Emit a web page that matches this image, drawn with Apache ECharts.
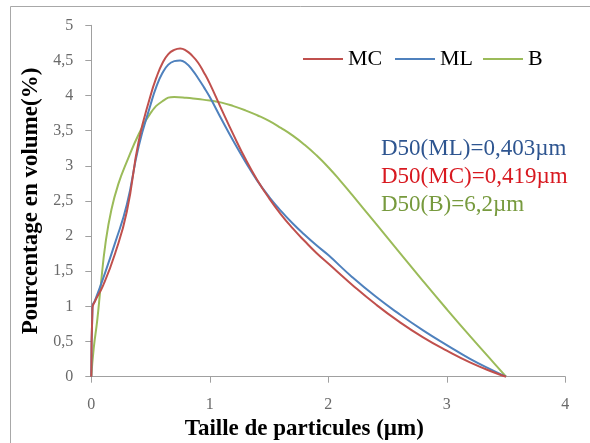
<!DOCTYPE html>
<html>
<head>
<meta charset="utf-8">
<script src="https://cdn.jsdelivr.net/npm/echarts@6/dist/echarts.min.js"></script>
<style>
html,body{margin:0;padding:0;background:#fff;}
#chart{width:590px;height:443px;}
</style>
</head>
<body>
<div id="chart"></div>
<script>
// Particle size (µm) for MC and ML
var sizesM = [0, 0.01, 0.03, 0.1, 0.2, 0.3, 0.4, 0.5, 0.55, 0.6, 0.65, 0.7, 0.75, 0.8, 0.85, 0.9, 0.95, 1.0, 1.1, 1.2, 1.3, 1.4, 1.5, 1.6, 1.7, 1.8, 1.9, 2.0, 2.2, 2.4, 2.6, 2.8, 3.0, 3.2, 3.4, 3.5];
var valuesMC = [0, 0.98, 1.07, 1.3, 1.75, 2.35, 3.35, 4.0, 4.26, 4.46, 4.59, 4.65, 4.67, 4.64, 4.57, 4.47, 4.33, 4.17, 3.80, 3.44, 3.10, 2.80, 2.54, 2.31, 2.11, 1.93, 1.76, 1.61, 1.31, 1.03, 0.78, 0.56, 0.37, 0.20, 0.06, 0];
var valuesML = [0, 1.0, 1.08, 1.4, 1.9, 2.45, 3.28, 3.87, 4.13, 4.32, 4.44, 4.49, 4.50, 4.46, 4.37, 4.25, 4.12, 3.98, 3.66, 3.35, 3.06, 2.79, 2.56, 2.36, 2.18, 2.02, 1.87, 1.73, 1.42, 1.14, 0.89, 0.66, 0.45, 0.25, 0.08, 0];
// Particle size (µm) for B
var sizesB = [0, 0.02, 0.05, 0.08, 0.12, 0.17, 0.23, 0.3, 0.4, 0.5, 0.6, 0.7, 0.8, 0.9, 1.0, 1.1, 1.2, 1.3, 1.4, 1.5, 1.6, 1.7, 1.8, 1.9, 2.0, 2.1, 2.2, 2.4, 2.6, 2.8, 3.0, 3.2, 3.4, 3.5];
var valuesB = [0, 0.4, 0.8, 1.3, 1.9, 2.38, 2.75, 3.06, 3.45, 3.75, 3.92, 3.98, 3.97, 3.95, 3.93, 3.90, 3.85, 3.79, 3.72, 3.64, 3.54, 3.43, 3.30, 3.15, 2.98, 2.79, 2.59, 2.18, 1.77, 1.36, 0.96, 0.57, 0.19, 0];
var seriesNames = ['MC', 'ML', 'B'];
var xTicks = [0, 1, 2, 3, 4];
var yTicks = [0, 0.5, 1, 1.5, 2, 2.5, 3, 3.5, 4, 4.5, 5];
var annotations = ['D50(ML)=0,403\u00b5m', 'D50(MC)=0,419\u00b5m', 'D50(B)=6,2\u00b5m'];

function pairs(xs, ys) { return xs.map(function (x, i) { return [x, ys[i]]; }); }

var FONT = 'Liberation Serif';
var colors = ['#c0504d', '#4f81bd', '#9bbb59'];
var chart = echarts.init(document.getElementById('chart'), null, {renderer: 'canvas'});

function legendFor(name, left) {
  return {
    data: [name], left: left, top: 43, icon: 'rect', itemWidth: 40, itemHeight: 2, itemGap: 4,
    textStyle: {fontFamily: FONT, fontSize: 22, color: '#000'}
  };
}

chart.setOption({
  animation: false,
  color: colors,
  grid: {left: 91.3, right: 24.7, top: 25.3, bottom: 66.3, containLabel: false, outerBoundsMode: 'none'},
  legend: [legendFor('MC', 298), legendFor('ML', 390), legendFor('B', 478)],
  xAxis: {
    type: 'value', min: xTicks[0], max: xTicks[xTicks.length - 1], interval: 1,
    name: 'Taille de particules (\u00b5m)', nameLocation: 'middle', nameGap: 37,
    nameTextStyle: {fontFamily: FONT, fontSize: 23, fontWeight: 'bold', color: '#000', padding: [0, 48, 0, 0]},
    axisLine: {lineStyle: {color: '#a0a0a0', width: 1}},
    axisTick: {show: true, inside: false, length: 6, lineStyle: {color: '#a0a0a0'}},
    axisLabel: {fontFamily: FONT, fontSize: 16, color: '#6a6a6a', margin: 20},
    splitLine: {show: false}
  },
  yAxis: {
    type: 'value', min: yTicks[0], max: yTicks[yTicks.length - 1], interval: 0.5,
    name: 'Pourcentage en volume(%)', nameLocation: 'middle', nameGap: 48,
    nameTextStyle: {fontFamily: FONT, fontSize: 23, fontWeight: 'bold', color: '#000', padding: [12, 0, 0, 0]},
    axisLine: {show: true, lineStyle: {color: '#a0a0a0', width: 1}},
    axisTick: {show: true, inside: false, length: 6, lineStyle: {color: '#a0a0a0'}},
    axisLabel: {fontFamily: FONT, fontSize: 16, color: '#6a6a6a', margin: 18,
      formatter: function (v) { return String(v).replace('.', ','); }},
    splitLine: {show: false}
  },
  series: [
    {name: seriesNames[0], type: 'line', data: pairs(sizesM, valuesMC), smooth: 0.5, symbol: 'none', lineStyle: {width: 2, color: colors[0]}, z: 3},
    {name: seriesNames[1], type: 'line', data: pairs(sizesM, valuesML), smooth: 0.5, symbol: 'none', lineStyle: {width: 2, color: colors[1]}, z: 2},
    {name: seriesNames[2], type: 'line', data: pairs(sizesB, valuesB), smooth: 0.5, symbol: 'none', lineStyle: {width: 2, color: colors[2]}, z: 1}
  ],
  graphic: [
    {type: 'rect', silent: true, shape: {x: 10.5, y: 6.5, width: 700, height: 600}, style: {fill: 'none', stroke: '#a8a8a8', lineWidth: 1}},
    {type: 'text', left: 381, top: 137, style: {text: annotations[0], font: '23px "Liberation Serif"', fill: '#2e5590'}},
    {type: 'text', left: 381, top: 165, style: {text: annotations[1], font: '23px "Liberation Serif"', fill: '#d81920'}},
    {type: 'text', left: 381, top: 193, style: {text: annotations[2], font: '23px "Liberation Serif"', fill: '#779a3e'}}
  ]
});
</script>
</body>
</html>
